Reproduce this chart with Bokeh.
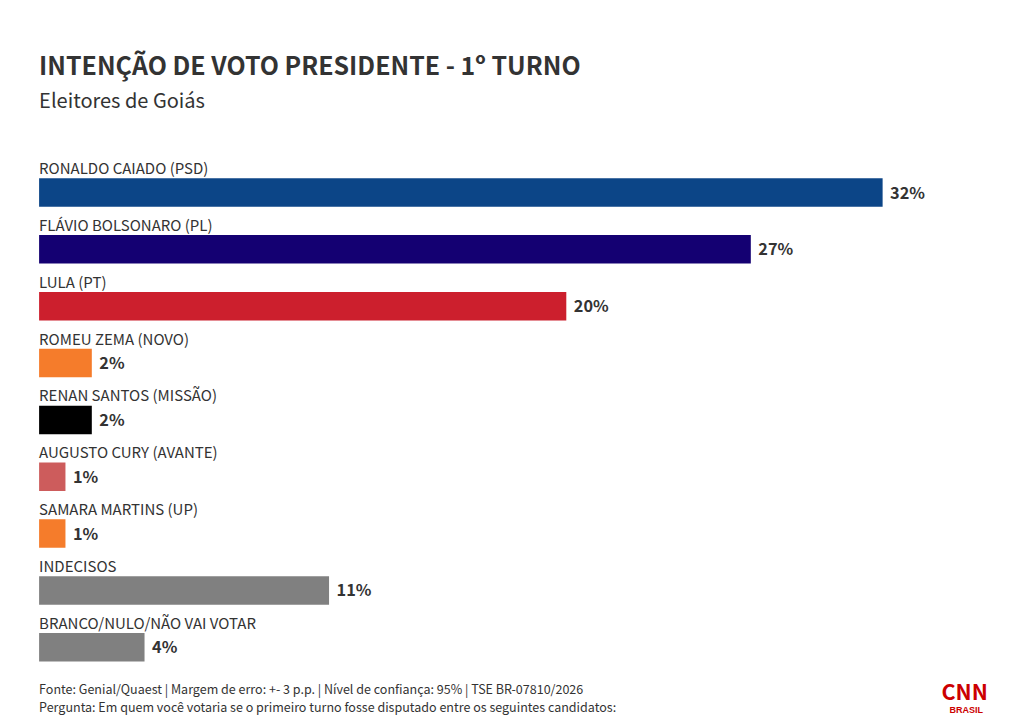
from bokeh.core.properties import value
from bokeh.embed import file_html
from bokeh.models import ColumnDataSource, Label, LabelSet, Range1d
from bokeh.plotting import figure
from bokeh.resources import INLINE

categories = ["RONALDO CAIADO (PSD)", "FLÁVIO BOLSONARO (PL)", "LULA (PT)", "ROMEU ZEMA (NOVO)",
              "RENAN SANTOS (MISSÃO)", "AUGUSTO CURY (AVANTE)", "SAMARA MARTINS (UP)", "INDECISOS",
              "BRANCO/NULO/NÃO VAI VOTAR"]
values = [32, 27, 20, 2, 2, 1, 1, 11, 4]
colors = ["#0C4587", "#140072", "#CC1F2D", "#F57C2B", "#000000", "#CD5C5C", "#F57C2B", "#808080", "#808080"]
value_labels = [f"{v}%" for v in values]
title = "INTENÇÃO DE VOTO PRESIDENTE - 1º TURNO"
subtitle = "Eleitores de Goiás"
source_note = "Fonte: Genial/Quaest | Margem de erro: +- 3 p.p. | Nível de confiança: 95% | TSE BR-07810/2026"
question_note = "Pergunta: Em quem você votaria se o primeiro turno fosse disputado entre os seguintes candidatos:"

FONT = "Noto Sans CJK SC"
INK = "#333333"
W, H = 1012, 720
PX_PER_PCT = 26.36
PX_PER_ROW = 56.85
X0 = 38.6

p = figure(width=W, height=H, output_backend="svg", toolbar_location=None,
           x_range=Range1d(-X0 / PX_PER_PCT, (W - X0) / PX_PER_PCT),
           y_range=Range1d((H - 192) / PX_PER_ROW, -192 / PX_PER_ROW),
           min_border=0, outline_line_color=None, background_fill_color="white")
p.axis.visible = False
p.grid.visible = False

src = ColumnDataSource(dict(cat=categories, val=values, color=colors, label=value_labels,
                            row=list(range(len(values)))))
p.hbar(y="row", left=0, right="val", height=28.5 / PX_PER_ROW, color="color", line_color=None, source=src)
p.add_layout(LabelSet(x=0, y="row", text="cat", source=src, text_font=value(FONT), text_font_size="15px",
                      text_color=INK, text_baseline="alphabetic", y_offset=18.5, x_offset=0))
p.add_layout(LabelSet(x="val", y="row", text="label", source=src, text_font=value(FONT), text_font_size="16.3px",
                      text_font_style="bold", text_color=INK, text_baseline="middle", x_offset=7.5, y_offset=1))


def screen_text(text, x, y, size, color=INK, style="normal", font=FONT):
    p.add_layout(Label(x=x, y=H - y, x_units="screen", y_units="screen", text=text,
                       text_font=font, text_font_size=size, text_color=color, text_font_style=style,
                       text_baseline="alphabetic"))


screen_text(title, X0, 63, "24.95px", style="bold")
screen_text(subtitle, X0, 99, "20px")
screen_text(source_note, X0, 688, "12.52px")
screen_text(question_note, X0, 706, "12.52px")
screen_text("CNN", 941, 690, "21.5px", color="#CC0000", style="bold")
screen_text("BRASIL", 949, 709, "9px", color="#CC0000", style="bold", font="Liberation Sans")

open("out.html", "w").write(file_html(p, INLINE))
